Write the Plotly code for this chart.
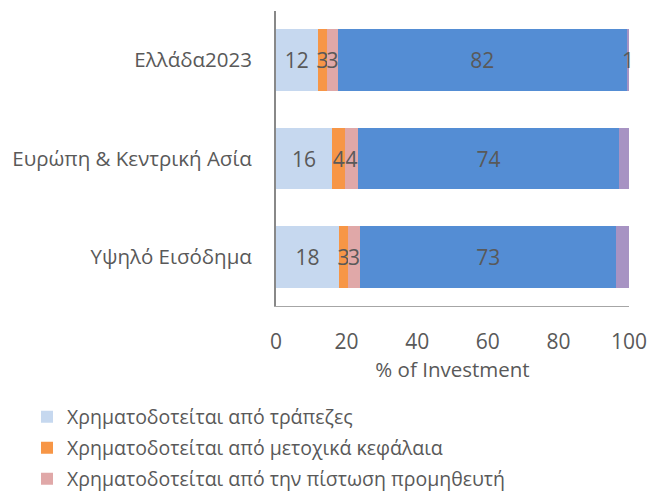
import plotly.graph_objects as go

categories = ["Ελλάδα2023", "Ευρώπη & Κεντρική Ασία", "Υψηλό Εισόδημα"]
series_names = [
    "Χρηματοδοτείται από τράπεζες",
    "Χρηματοδοτείται από μετοχικά κεφάλαια",
    "Χρηματοδοτείται από την πίστωση προμηθευτή",
    "Χρηματοδοτείται εσωτερικά",
    "Άλλο",
]
banks = [11.8, 15.9, 17.8]
equity = [2.7, 3.7, 2.6]
supplier = [3.0, 3.6, 3.4]
internal = [81.9, 74.0, 72.6]
other = [0.6, 2.9, 3.7]
x_ticks = [0, 20, 40, 60, 80, 100]

colors = ["#C6D8EF", "#F79646", "#E0A8A8", "#548DD4", "#A793C3"]
values = [banks, equity, supplier, internal, other]
legend_ids = ["legend", "legend2", "legend3", None, None]

FONT = "Open Sans"
W, H = 650, 491
fig = go.Figure()
for name, vals, col, lg in zip(series_names, values, colors, legend_ids):
    kw = dict(showlegend=lg is not None)
    if lg is not None:
        kw["legend"] = lg
    fig.add_trace(go.Bar(
        y=categories, x=vals, name=name, orientation="h",
        marker=dict(color=col, line=dict(width=0)),
        text=vals, texttemplate="%{x:.0f}", textposition="inside",
        insidetextanchor="middle", textangle=0,
        textfont=dict(color="#595959", size=21, family=FONT),
        cliponaxis=False, **kw,
    ))

def leg(yc):
    return dict(
        xref="container", yref="container", x=27 / W, y=1 - yc / H,
        xanchor="left", yanchor="middle", orientation="v",
        font=dict(size=19.5, color="#595959", family=FONT),
        itemwidth=30, bgcolor="rgba(0,0,0,0)",
    )

fig.update_layout(
    barmode="stack", bargap=0.37,
    width=W, height=H,
    margin=dict(l=276, r=W - 629, t=11, b=H - 306, autoexpand=False),
    plot_bgcolor="white", paper_bgcolor="white",
    font=dict(family=FONT, color="#595959", size=20),
    uniformtext=dict(minsize=21, mode="show"),
    legend=leg(417), legend2=leg(448), legend3=leg(479),
)
fig.update_xaxes(
    range=[0, 100], tickvals=x_ticks, showgrid=False, zeroline=False,
    showline=True, linecolor="#A6A6A6", linewidth=1, automargin=False,
    ticks="", ticklabelstandoff=17,
    tickfont=dict(size=21, color="#595959"),
    title=dict(text="% of Investment", font=dict(size=20.5, color="#595959"), standoff=0),
)
fig.update_yaxes(
    categoryorder="array", categoryarray=categories, autorange="reversed",
    showgrid=False, zeroline=False, showline=True, linecolor="#888888", linewidth=2,
    ticks="", ticklabelstandoff=18, automargin=False,
    tickfont=dict(size=20.5, color="#595959"),
)
fig.write_html(
    "out.html",
    config={"displayModeBar": False},
    post_script=(
        "document.body.style.margin='0';"
        "document.body.style.overflow='hidden';"
        "document.documentElement.style.overflow='hidden';"
    ),
)
